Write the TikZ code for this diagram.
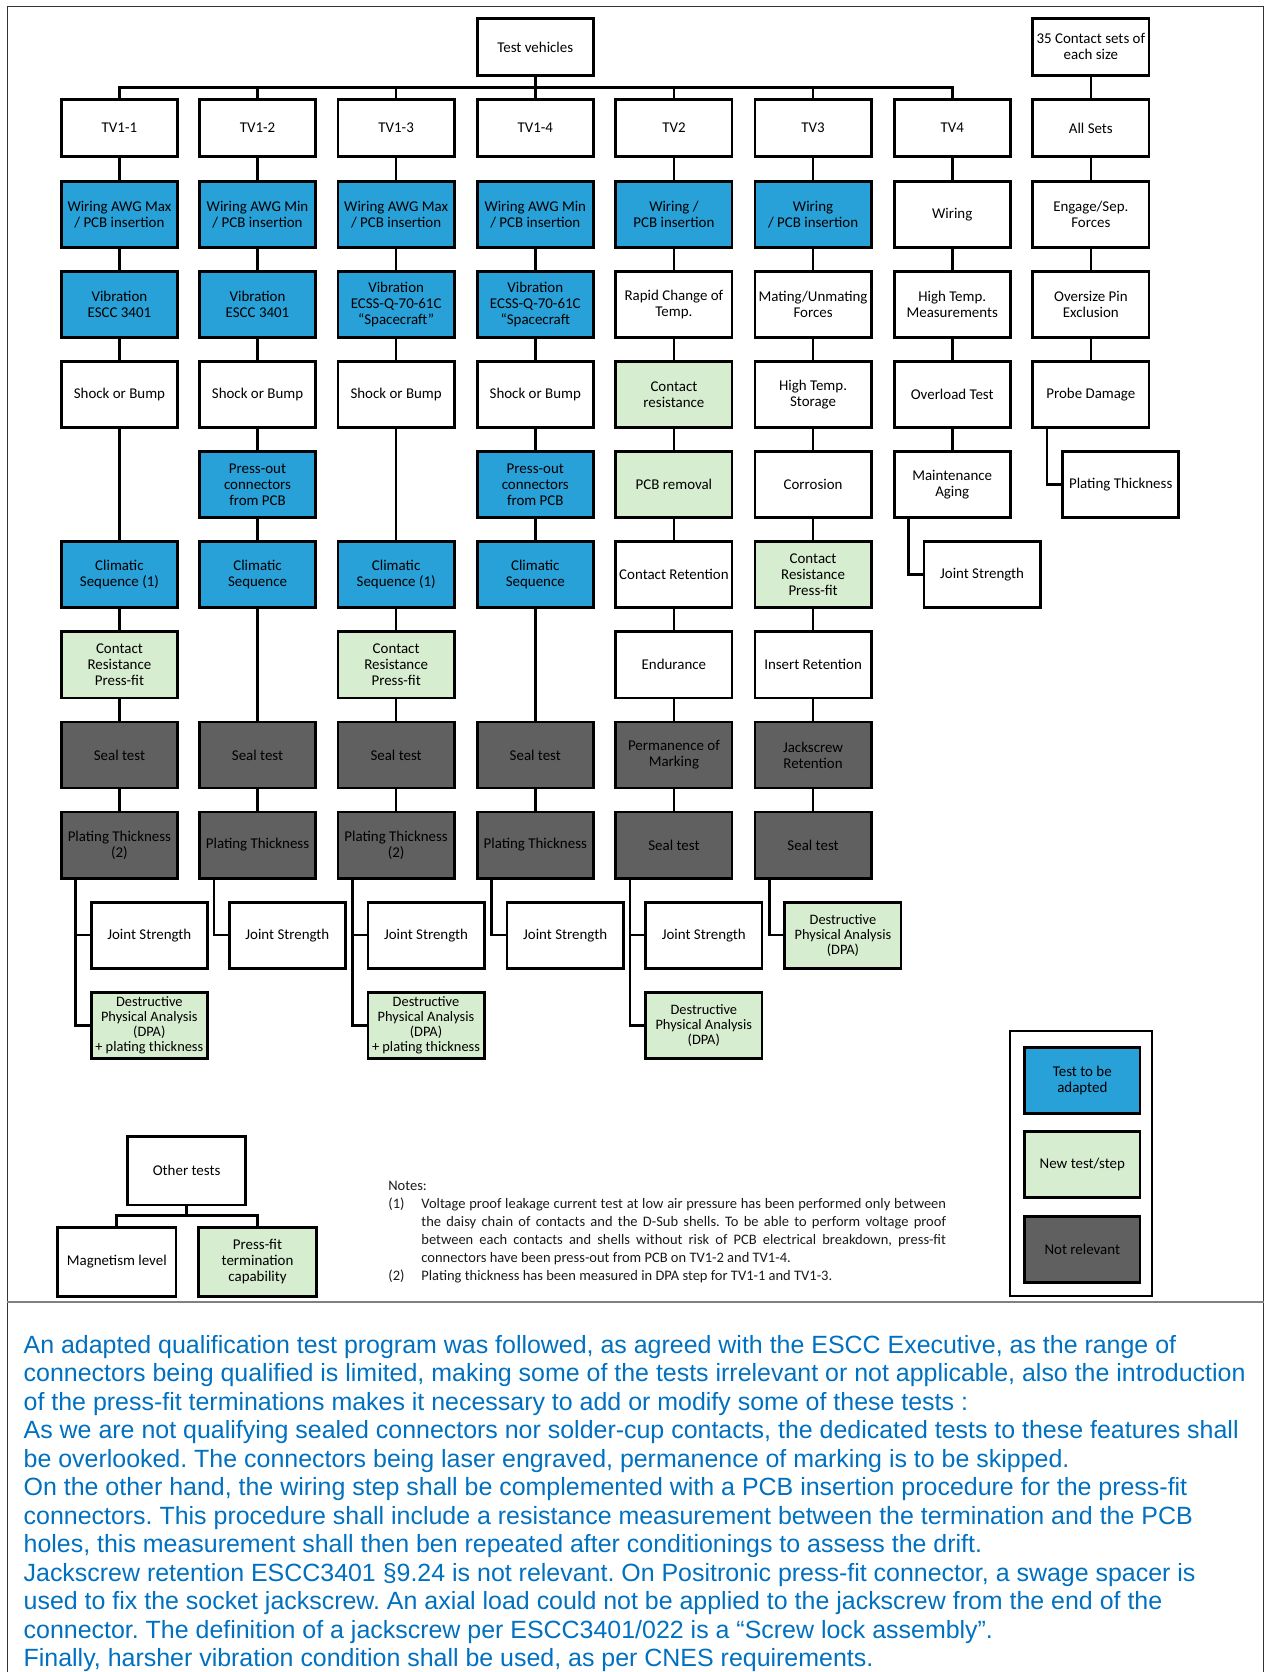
\documentclass[tikz,border=0pt]{standalone}
\usepackage{fontspec}
\setmainfont{Carlito}
\newfontfamily\arialfont{Liberation Sans}
\frenchspacing
\definecolor{cblue}{RGB}{40,160,216}
\definecolor{cgreen}{RGB}{214,237,207}
\definecolor{cgrey}{RGB}{96,96,96}
\definecolor{ctext}{RGB}{0,112,192}
\tikzset{
 bx/.style={draw=black, line width=2.6pt, minimum width=109pt, minimum height=62pt, inner sep=0pt, align=center, font=\fontsize{14}{15}\selectfont, text=black},
 tvb/.style={bx, minimum height=54pt},
 bl/.style={bx, fill=cblue},
 gr/.style={bx, fill=cgreen},
 gy/.style={bx, fill=cgrey, text=black},
 dpa/.style={gr, font=\fontsize{13.5}{14.2}\selectfont},
 conn/.style={line width=2.4pt},
 notefont/.style={font=\frenchspacing\fontsize{13.6}{17}\selectfont, text=black!90, inner sep=0pt},
}
\begin{document}
\begin{tikzpicture}[x=1pt,y=-1pt]
\useasboundingbox (0,0) rectangle (1188,1568);
% frame
\draw[line width=1.5pt, black!80] (7,1568) -- (7,6) -- (1185,6) -- (1185,1568);
\draw[line width=1pt, black!50] (7,1221) -- (1185,1221);

% top
\node[tvb] (tvh) at (502,44) {Test vehicles};
\node[tvb] (cs) at (1023,44) {35 Contact sets of\\each size};

% column 0
\node[tvb] (tv11) at (112,120) {TV1-1};
\node[bl] (w11) at (112,201) {Wiring AWG Max\\/ PCB insertion};
\node[bl] (v11) at (112,285.5) {Vibration\\ESCC 3401};
\node[bx] (s11) at (112,370) {Shock or Bump};
\node[bl] (c11) at (112,539) {Climatic\\Sequence (1)};
\node[gr] (r11) at (112,623.5) {Contact\\Resistance\\Press-fit};
\node[gy] (e11) at (112,708) {Seal test};
\node[gy] (p11) at (112,792.5) {Plating Thickness\\(2)};
\node[bx] (j11) at (140,877) {Joint Strength};
\node[dpa] (d11) at (140,961.5) {Destructive\\Physical Analysis\\(DPA)\\+ plating thickness};

% column 1
\node[tvb] (tv12) at (241.5,120) {TV1-2};
\node[bl] (w12) at (241.5,201) {Wiring AWG Min\\/ PCB insertion};
\node[bl] (v12) at (241.5,285.5) {Vibration\\ESCC 3401};
\node[bx] (s12) at (241.5,370) {Shock or Bump};
\node[bl] (o12) at (241.5,454.5) {Press-out\\connectors\\from PCB};
\node[bl] (c12) at (241.5,539) {Climatic\\Sequence};
\node[gy] (e12) at (241.5,708) {Seal test};
\node[gy] (p12) at (241.5,792.5) {Plating Thickness};
\node[bx] (j12) at (269.5,877) {Joint Strength};

% column 2
\node[tvb] (tv13) at (371.5,120) {TV1-3};
\node[bl] (w13) at (371.5,201) {Wiring AWG Max\\/ PCB insertion};
\node[bl] (v13) at (371.5,285.5) {Vibration\\ECSS-Q-70-61C\\“Spacecraft”};
\node[bx] (s13) at (371.5,370) {Shock or Bump};
\node[bl] (c13) at (371.5,539) {Climatic\\Sequence (1)};
\node[gr] (r13) at (371.5,623.5) {Contact\\Resistance\\Press-fit};
\node[gy] (e13) at (371.5,708) {Seal test};
\node[gy] (p13) at (371.5,792.5) {Plating Thickness\\(2)};
\node[bx] (j13) at (399.5,877) {Joint Strength};
\node[dpa] (d13) at (399.5,961.5) {Destructive\\Physical Analysis\\(DPA)\\+ plating thickness};

% column 3
\node[tvb] (tv14) at (502,120) {TV1-4};
\node[bl] (w14) at (502,201) {Wiring AWG Min\\/ PCB insertion};
\node[bl] (v14) at (502,285.5) {Vibration\\ECSS-Q-70-61C\\“Spacecraft};
\node[bx] (s14) at (502,370) {Shock or Bump};
\node[bl] (o14) at (502,454.5) {Press-out\\connectors\\from PCB};
\node[bl] (c14) at (502,539) {Climatic\\Sequence};
\node[gy] (e14) at (502,708) {Seal test};
\node[gy] (p14) at (502,792.5) {Plating Thickness};
\node[bx] (j14) at (530,877) {Joint Strength};

% column 4
\node[tvb] (tv2) at (632,120) {TV2};
\node[bl] (w2) at (632,201) {Wiring /\\PCB insertion};
\node[bx] (v2) at (632,285.5) {Rapid Change of\\Temp.};
\node[gr] (s2) at (632,370) {Contact\\resistance};
\node[gr] (o2) at (632,454.5) {PCB removal};
\node[bx] (c2) at (632,539) {Contact Retention};
\node[bx] (r2) at (632,623.5) {Endurance};
\node[gy] (e2) at (632,708) {Permanence of\\Marking};
\node[gy] (p2) at (632,792.5) {Seal test};
\node[bx] (j2) at (660,877) {Joint Strength};
\node[dpa] (d2) at (660,961.5) {Destructive\\Physical Analysis\\(DPA)};

% column 5
\node[tvb] (tv3) at (762.5,120) {TV3};
\node[bl] (w3) at (762.5,201) {Wiring\\/ PCB insertion};
\node[bx] (v3) at (762.5,285.5) {Mating/Unmating\\Forces};
\node[bx] (s3) at (762.5,370) {High Temp.\\Storage};
\node[bx] (o3) at (762.5,454.5) {Corrosion};
\node[gr] (c3) at (762.5,539) {Contact\\Resistance\\Press-fit};
\node[bx] (r3) at (762.5,623.5) {Insert Retention};
\node[gy] (e3) at (762.5,708) {Jackscrew\\Retention};
\node[gy] (p3) at (762.5,792.5) {Seal test};
\node[dpa] (d3) at (790.5,877) {Destructive\\Physical Analysis\\(DPA)};

% column 6
\node[tvb] (tv4) at (893,120) {TV4};
\node[bx] (w4) at (893,201) {Wiring};
\node[bx] (v4) at (893,285.5) {High Temp.\\Measurements};
\node[bx] (s4) at (893,370) {Overload Test};
\node[bx] (o4) at (893,454.5) {Maintenance\\Aging};
\node[bx] (j4) at (921,539) {Joint Strength};

% column 7
\node[tvb] (as) at (1023,120) {All Sets};
\node[bx] (w7) at (1023,201) {Engage/Sep.\\Forces};
\node[bx] (v7) at (1023,285.5) {Oversize Pin\\Exclusion};
\node[bx] (s7) at (1023,370) {Probe Damage};
\node[bx] (pt7) at (1051,454.5) {Plating Thickness};

% vertical connectors
\foreach \a/\b in {tvh/tv14,
  tv11/w11,w11/v11,v11/s11,s11/c11,c11/r11,r11/e11,e11/p11,
  tv12/w12,w12/v12,v12/s12,s12/o12,o12/c12,c12/e12,e12/p12,
  tv13/w13,w13/v13,v13/s13,s13/c13,c13/r13,r13/e13,e13/p13,
  w14/v14,v14/s14,s14/o14,o14/c14,c14/e14,e14/p14,
  tv2/w2,w2/v2,v2/s2,s2/o2,o2/c2,c2/r2,r2/e2,e2/p2,
  tv3/w3,w3/v3,v3/s3,s3/o3,o3/c3,c3/r3,r3/e3,e3/p3,
  tv4/w4,w4/v4,v4/s4,s4/o4,
  cs/as,as/w7,w7/v7,v7/s7}
  \draw[conn] (\a) -- (\b);

% bus
\coordinate (bus) at (0,82);
\draw[conn] (tv11.north) -- (tv11.north |- bus) -| (tv4.north);
\foreach \n in {tv12,tv13,tv2,tv3}
  \draw[conn] (\n.north) -- (\n.north |- bus);

% offset connectors
\foreach \p/\c in {p11/j11,p11/d11,p12/j12,p13/j13,p13/d13,p14/j14,p2/j2,p2/d2,p3/d3,o4/j4,s7/pt7}
  \draw[conn] ([xshift=-41pt]\p.south) |- (\c.west);

% other tests
\node[bx, minimum width=111pt, minimum height=64pt] (ot) at (175,1098) {Other tests};
\node[bx, minimum width=111pt, minimum height=65pt] (mg) at (109.5,1183.5) {Magnetism level};
\node[gr, minimum width=111pt, minimum height=65pt] (pf) at (241.5,1183.5) {Press-fit\\termination\\capability};
\coordinate (obus) at (0,1140);
\draw[conn] (ot.south) -- (ot.south |- obus);
\draw[conn] (mg.north) -- (mg.north |- obus) -| (pf.north);

% notes
\node[notefont, anchor=base west] (nh) at (364,1116) {Notes:};
\node[notefont, anchor=base west] (n1) at (364,1133) {(1)};
\node[notefont, anchor=base west] (n1a) at (395,1133) {\hbox to 492pt{Voltage proof leakage current test at low air pressure has been performed only between}};
\node[notefont, anchor=base west] (n1b) at (395,1150) {\hbox to 492pt{the daisy chain of contacts and the D-Sub shells. To be able to perform voltage proof}};
\node[notefont, anchor=base west] (n1c) at (395,1167) {\hbox to 492pt{between each contacts and shells without risk of PCB electrical breakdown, press-fit}};
\node[notefont, anchor=base west] (n1d) at (395,1184) {connectors have been press-out from PCB on TV1-2 and TV1-4.};
\node[notefont, anchor=base west] (n2) at (364,1201) {(2)};
\node[notefont, anchor=base west] (n2a) at (395,1201) {Plating thickness has been measured in DPA step for TV1-1 and TV1-3.};

% legend
\node[draw=black, line width=2pt, minimum width=133pt, minimum height=248pt, inner sep=0pt] (lg) at (1013.5,1091) {};
\node[bl, minimum width=108pt] (l1) at (1015,1013) {Test to be\\adapted};
\node[gr, minimum width=108pt] (l2) at (1015,1092) {New test/step};
\node[gy, minimum width=108pt] (l3) at (1015,1171.5) {Not relevant};

% body text
\node[anchor=north west, inner sep=0pt, align=left, text=ctext, font=\arialfont\frenchspacing\fontsize{23.4}{26.7}\selectfont] (body) at (22,1252) {%
An adapted qualification test program was followed, as agreed with the ESCC Executive, as the range of\\
connectors being qualified is limited, making some of the tests irrelevant or not applicable, also the introduction\\
of the press-fit terminations makes it necessary to add or modify some of these tests :\\
As we are not qualifying sealed connectors nor solder-cup contacts, the dedicated tests to these features shall\\
be overlooked. The connectors being laser engraved, permanence of marking is to be skipped.\\
On the other hand, the wiring step shall be complemented with a PCB insertion procedure for the press-fit\\
connectors. This procedure shall include a resistance measurement between the termination and the PCB\\
holes, this measurement shall then ben repeated after conditionings to assess the drift.\\
Jackscrew retention ESCC3401 §9.24 is not relevant. On Positronic press-fit connector, a swage spacer is\\
used to fix the socket jackscrew. An axial load could not be applied to the jackscrew from the end of the\\
connector. The definition of a jackscrew per ESCC3401/022 is a “Screw lock assembly”.\\
Finally, harsher vibration condition shall be used, as per CNES requirements.};
\end{tikzpicture}
\end{document}
